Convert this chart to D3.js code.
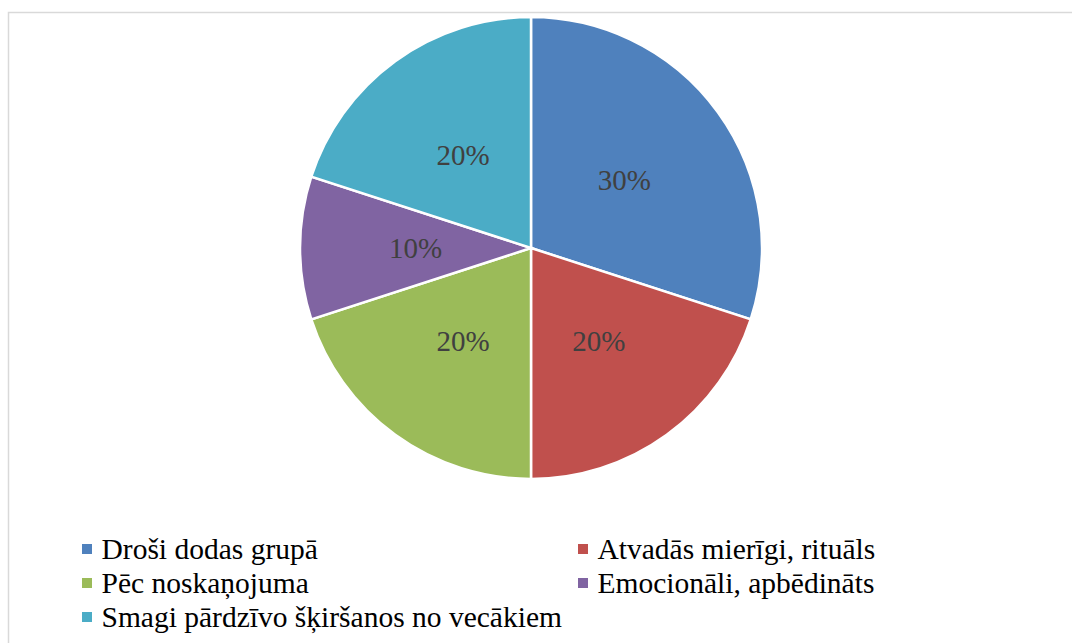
<!DOCTYPE html>
<html>
<head>
<meta charset="utf-8">
<script src="https://cdn.jsdelivr.net/npm/d3@7"></script>
</head>
<body style="margin:0">
<svg id="chart" width="1072" height="643" font-family="Liberation Serif"></svg>
<script>
var categories = ["Droši dodas grupā", "Atvadās mierīgi, rituāls", "Pēc noskaņojuma", "Emocionāli, apbēdināts", "Smagi pārdzīvo šķiršanos no vecākiem"]
var values = [30, 20, 20, 10, 20]
var colors = ["#4F81BD", "#C0504D", "#9BBB59", "#8064A2", "#4BACC6"]

var svg = d3.select("#chart")

// chart frame (right/bottom edges run off the page)
svg.append("rect")
  .attr("x", 8.5).attr("y", 12.5)
  .attr("width", 1080).attr("height", 700)
  .attr("fill", "#fff")
  .attr("stroke", "#d9d9d9")
  .attr("stroke-width", 1.5)

var cx = 531, cy = 248, r = 231
var total = d3.sum(values)

var pie = d3.pie().sort(null).value(function (d) { return d })
var arc = d3.arc().innerRadius(0).outerRadius(r)
var labelArc = d3.arc().innerRadius(r * 0.5).outerRadius(r * 0.5)

var g = svg.append("g").attr("transform", "translate(" + cx + "," + cy + ")")
var arcs = pie(values)

g.selectAll(".slice").data(arcs).enter().append("path")
  .attr("class", "slice")
  .attr("d", arc)
  .attr("fill", function (d, i) { return colors[i] })
  .attr("stroke", "#fff")
  .attr("stroke-width", 2.5)

g.selectAll(".lbl").data(arcs).enter().append("text")
  .attr("class", "lbl")
  .attr("x", function (d) { return labelArc.centroid(d)[0] })
  .attr("y", function (d) { return labelArc.centroid(d)[1] + 10 })
  .attr("text-anchor", "middle")
  .attr("font-family", "Liberation Serif")
  .attr("font-size", 29)
  .attr("fill", "#404040")
  .text(function (d) { return Math.round(d.value / total * 100) + "%" })

// legend: two columns, filled row by row
var legX = [87, 583], legY0 = 549, legDY = 34
var items = svg.selectAll(".leg").data(categories).enter().append("g")
  .attr("class", "leg")
  .attr("transform", function (d, i) {
    return "translate(" + legX[i % 2] + "," + (legY0 + Math.floor(i / 2) * legDY) + ")"
  })
items.append("rect")
  .attr("x", -5).attr("y", -5)
  .attr("width", 10).attr("height", 10)
  .attr("fill", function (d, i) { return colors[i] })
items.append("text")
  .attr("x", 14.5)
  .attr("y", 9.5)
  .attr("font-family", "Liberation Serif")
  .attr("font-size", 29.5)
  .attr("fill", "#000")
  .text(function (d) { return d })
</script>
</body>
</html>
